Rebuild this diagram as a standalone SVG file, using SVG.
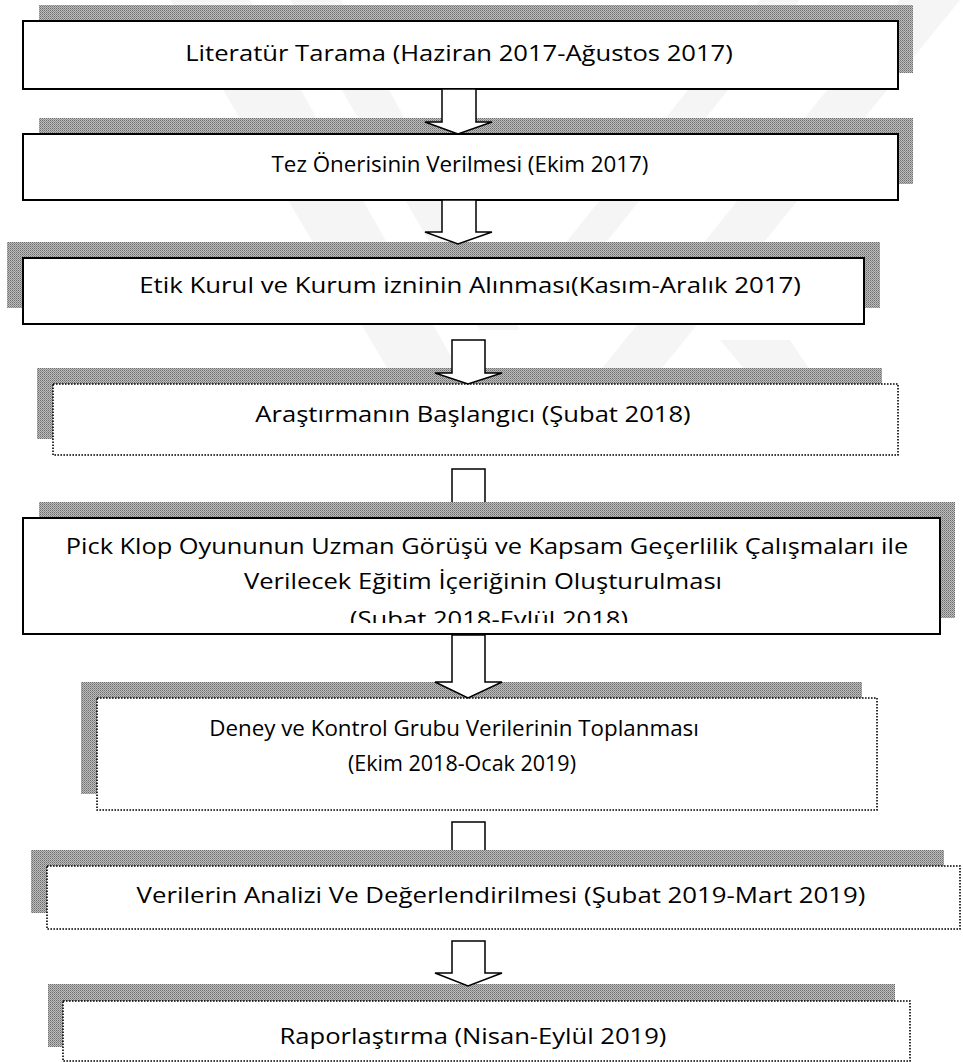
<svg xmlns="http://www.w3.org/2000/svg" width="963" height="1062" viewBox="0 0 963 1062">
<style>
.txt{font-family:"Open Sans","Noto Sans","Liberation Sans",sans-serif;font-size:21.5px;fill:#000;text-anchor:middle}
.shadow{fill:url(#dots)}
.solid{fill:#fff;stroke:#000;stroke-width:2}
.dotted{fill:#fff;stroke:#000;stroke-width:1.6;stroke-dasharray:1.6 1.4}
.arrow{fill:#fff;stroke:#000;stroke-width:1.5;stroke-linejoin:miter}
.wm{fill:#f5f5f5}
</style>
<defs>
<pattern id="dots" width="2" height="2" patternUnits="userSpaceOnUse">
<rect width="2" height="2" fill="#bcbcbc"/>
<rect width="1" height="1" fill="#6e6e6e"/>
<rect x="1" y="1" width="1" height="1" fill="#8e8e8e"/>
</pattern>
<clipPath id="clip5"><rect x="24" y="519" width="915" height="104"/></clipPath>
</defs>
<rect width="963" height="1062" fill="#fff"/>
<g id="watermark">
<polygon class="wm" points="170,0 250,0 470,390 400,390"/>
<polygon class="wm" points="290,0 340,0 520,330 480,330"/>
<polygon class="wm" points="900,0 960,0 620,420 560,420"/>
<polygon class="wm" points="760,0 800,0 560,300 520,300"/>
<polygon class="wm" points="720,340 790,340 830,400 770,400"/>
</g>
<g id="node1">
<rect class="shadow" x="39" y="5" width="874" height="68"/>
<rect class="solid" x="23" y="21" width="875" height="68"/>
<text class="txt" transform="translate(459 61) scale(1.19 1)">Literatür Tarama (Haziran  2017-Ağustos 2017)</text>
</g>
<g id="node2">
<rect class="shadow" x="39" y="118" width="874" height="66"/>
<rect class="solid" x="23" y="134" width="875" height="66"/>
<text class="txt" transform="translate(460 172) scale(1.04 1)">Tez Önerisinin Verilmesi (Ekim 2017)</text>
</g>
<g id="node3">
<rect class="shadow" x="7" y="242" width="873" height="66"/>
<rect class="solid" x="23" y="258" width="841" height="66"/>
<text class="txt" transform="translate(470 293) scale(1.2 1)">Etik Kurul ve Kurum izninin Alınması(Kasım-Aralık 2017)</text>
</g>
<g id="node4">
<rect class="shadow" x="37" y="368" width="845" height="71"/>
<rect class="dotted" x="53" y="384" width="845" height="71"/>
<text class="txt" transform="translate(473 422) scale(1.19 1)">Araştırmanın Başlangıcı (Şubat 2018)</text>
</g>
<g id="node5">
<rect class="shadow" x="39" y="502" width="916" height="116"/>
<rect class="solid" x="23" y="518" width="917" height="116"/>
<text class="txt" transform="translate(487 554) scale(1.18 1)">Pick Klop Oyununun Uzman Görüşü ve Kapsam Geçerlilik Çalışmaları ile</text>
<text class="txt" transform="translate(483 589) scale(1.19 1)">Verilecek Eğitim İçeriğinin Oluşturulması</text>
<g clip-path="url(#clip5)">
<text class="txt" transform="translate(489 627) scale(1.19 1)">(Şubat 2018-Eylül 2018)</text>
</g>
</g>
<g id="node6">
<rect class="shadow" x="81" y="682" width="781" height="112"/>
<rect class="dotted" x="97" y="698" width="780" height="112"/>
<text class="txt" transform="translate(454 736) scale(1.04 1)">Deney ve Kontrol Grubu Verilerinin Toplanması</text>
<text class="txt" transform="translate(462 771) scale(1.0 1)">(Ekim 2018-Ocak 2019)</text>
</g>
<g id="node7">
<rect class="shadow" x="31" y="850" width="913" height="63"/>
<rect class="dotted" x="47" y="866" width="913" height="63"/>
<text class="txt" transform="translate(501 903) scale(1.2 1)">Verilerin Analizi Ve Değerlendirilmesi  (Şubat 2019-Mart 2019)</text>
</g>
<g id="node8">
<rect class="shadow" x="48" y="984" width="847" height="63"/>
<rect class="dotted" x="63" y="1001" width="847" height="60"/>
<text class="txt" transform="translate(473 1044) scale(1.19 1)">Raporlaştırma  (Nisan-Eylül 2019)</text>
</g>
<g id="connectors">
<path class="arrow" d="M442,89 V122 H425 L458,134 L492,122 H476 V89 Z"/>
<path class="arrow" d="M442,200 V232 H425 L458,244 L492,232 H476 V200 Z"/>
<path class="arrow" d="M452,340 V373 H435 L468,384 L502,373 H485 V340 Z"/>
<path class="arrow" d="M452,502 V469 H485 V502"/>
<path class="arrow" d="M452,635 V682 H435 L468,698 L502,682 H485 V635 Z"/>
<path class="arrow" d="M452,850 V822 H485 V850"/>
<path class="arrow" d="M452,941 V973 H435 L468,986 L502,973 H485 V941 Z"/>
</g>
</svg>
